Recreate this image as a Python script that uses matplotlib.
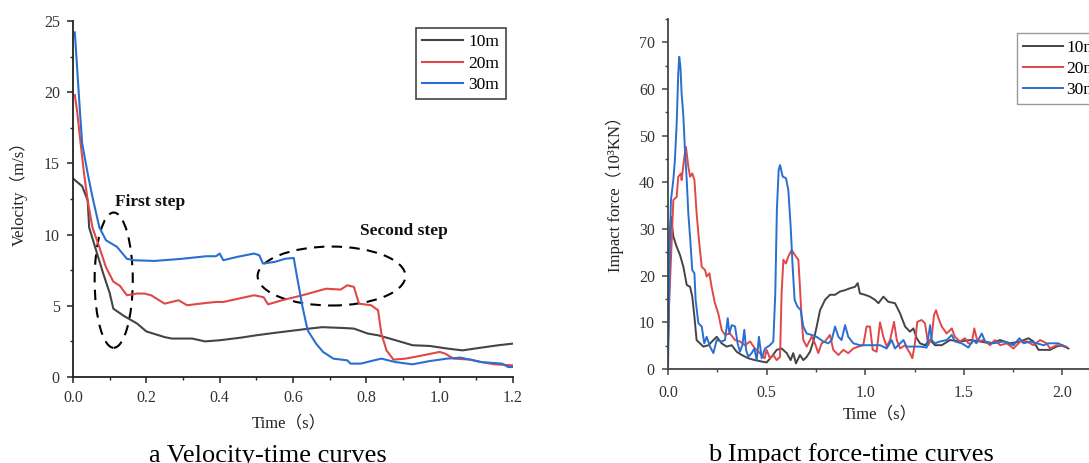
import matplotlib
matplotlib.use("Agg")
import matplotlib.pyplot as plt
from matplotlib.patches import Ellipse
from matplotlib.ticker import MultipleLocator

plt.rcParams["font.family"] = ["Liberation Serif", "Noto Sans CJK SC"]

# ---- data: velocity-time (panel a) ----
t10 = [0, 0.025, 0.04, 0.044, 0.063, 0.082, 0.1, 0.11, 0.138, 0.175, 0.2, 0.25, 0.27, 0.325, 0.36,
       0.4, 0.457, 0.5, 0.55, 0.607, 0.645, 0.68, 0.738, 0.766, 0.804, 0.832, 0.88, 0.926, 0.973,
       1.02, 1.062, 1.113, 1.16, 1.198]
v10 = [13.94, 13.4, 12.4, 10.5, 8.9, 7.3, 5.9, 4.8, 4.3, 3.75, 3.2, 2.8, 2.7, 2.7, 2.5,
       2.58, 2.76, 2.93, 3.1, 3.28, 3.4, 3.5, 3.44, 3.4, 3.05, 2.93, 2.58, 2.23, 2.18,
       2.0, 1.87, 2.06, 2.23, 2.34]

t20 = [0.005, 0.011, 0.02, 0.03, 0.04, 0.053, 0.072, 0.09, 0.11, 0.128, 0.147, 0.175, 0.194, 0.213,
       0.25, 0.288, 0.311, 0.363, 0.39, 0.41, 0.494, 0.52, 0.532, 0.57, 0.626, 0.69, 0.73, 0.748,
       0.766, 0.78, 0.813, 0.832, 0.841, 0.855, 0.874, 0.907, 0.954, 1.0, 1.015, 1.038, 1.085,
       1.113, 1.15, 1.198]
v20 = [19.8, 18.7, 16.6, 14.3, 12.4, 10.5, 9.1, 7.7, 6.7, 6.4, 5.74, 5.86, 5.86, 5.74,
       5.15, 5.39, 5.04, 5.2, 5.27, 5.27, 5.74, 5.6, 5.1, 5.39, 5.74, 6.2, 6.14, 6.44,
       6.33, 5.15, 5.04, 4.69, 3.05, 1.87, 1.22, 1.29, 1.52, 1.76, 1.64, 1.29, 1.22,
       1.05, 0.89, 0.82]

t30 = [0.005, 0.011, 0.018, 0.025, 0.04, 0.053, 0.072, 0.09, 0.12, 0.147, 0.166, 0.222, 0.297,
       0.363, 0.39, 0.4, 0.41, 0.447, 0.494, 0.508, 0.518, 0.55, 0.578, 0.602, 0.611, 0.626,
       0.64, 0.663, 0.682, 0.71, 0.748, 0.757, 0.785, 0.813, 0.841, 0.879, 0.926, 0.973, 1.02,
       1.057, 1.113, 1.17, 1.187, 1.2]
v30 = [24.2, 21.8, 19.0, 16.4, 14.3, 12.65, 10.5, 9.6, 9.14, 8.3, 8.2, 8.15, 8.3,
       8.48, 8.48, 8.67, 8.2, 8.43, 8.67, 8.55, 7.97, 8.08, 8.3, 8.36, 7.03, 4.92,
       3.28, 2.34, 1.76, 1.29, 1.17, 0.94, 0.94, 1.12, 1.29, 1.05, 0.89, 1.12, 1.29,
       1.36, 1.05, 0.94, 0.7, 0.7]

# ---- data: impact force-time (panel b) ----
tf10 = [0, 0.008, 0.015, 0.027, 0.044, 0.061, 0.078, 0.095, 0.112, 0.123, 0.134, 0.145, 0.162,
        0.179, 0.205, 0.23, 0.247, 0.272, 0.297, 0.323, 0.348, 0.374, 0.407, 0.441, 0.475, 0.5,
        0.525, 0.551, 0.576, 0.602, 0.622, 0.635, 0.649, 0.669, 0.686, 0.703, 0.72, 0.737, 0.754,
        0.771, 0.796, 0.821, 0.847, 0.872, 0.898, 0.923, 0.948, 0.962, 0.973, 0.999, 1.024, 1.05,
        1.067, 1.092, 1.117, 1.151, 1.177, 1.202, 1.227, 1.244, 1.261, 1.278, 1.303, 1.329, 1.354,
        1.388, 1.43, 1.48, 1.531, 1.582, 1.633, 1.684, 1.735, 1.786, 1.828, 1.853, 1.879, 1.904,
        1.937, 1.97, 2.0, 2.03]
f10 = [5, 28, 32.6, 28.4, 26.2, 24.4, 21.9, 18, 17.6, 15.5, 11.2, 6.2, 5.5,
       4.8, 5.1, 6.2, 6.9, 5.5, 4.8, 5.1, 3.7, 3.0, 2.3, 1.9, 1.6, 1.4,
       2.6, 4.1, 4.4, 3.4, 1.9, 3.4, 1.2, 3.0, 1.9, 2.6, 3.7, 5.9, 9.1,
       12.6, 14.8, 15.9, 15.9, 16.6, 16.9, 17.3, 17.6, 18.4, 16.2, 15.9, 15.5, 14.8,
       14.1, 15.5, 14.4, 14.1, 11.9, 9.1, 8.0, 8.7, 6.6, 5.5, 5.1, 6.2, 5.1,
       5.1, 6.2, 5.9, 6.2, 5.9, 5.5, 6.2, 5.5, 5.9, 6.6, 5.9, 4.1, 4.1,
       4.1, 4.8, 5.1, 4.4]

tf20 = [0, 0.005, 0.019, 0.027, 0.044, 0.052, 0.066, 0.069, 0.083, 0.091, 0.103, 0.112, 0.123,
        0.134, 0.145, 0.157, 0.171, 0.188, 0.196, 0.21, 0.221, 0.238, 0.255, 0.272, 0.289, 0.314,
        0.34, 0.365, 0.39, 0.416, 0.441, 0.466, 0.49, 0.5, 0.517, 0.534, 0.551, 0.568, 0.576,
        0.585, 0.598, 0.61, 0.627, 0.644, 0.661, 0.669, 0.678, 0.686, 0.703, 0.728, 0.745, 0.762,
        0.779, 0.796, 0.821, 0.838, 0.864, 0.889, 0.914, 0.94, 0.965, 0.99, 1.007, 1.024, 1.038,
        1.058, 1.075, 1.092, 1.109, 1.126, 1.146, 1.16, 1.177, 1.202, 1.227, 1.239, 1.252, 1.264,
        1.286, 1.303, 1.32, 1.337, 1.349, 1.359, 1.371, 1.388, 1.413, 1.439, 1.455, 1.48, 1.506,
        1.523, 1.54, 1.553, 1.569, 1.6, 1.633, 1.658, 1.684, 1.718, 1.752, 1.786, 1.82, 1.853,
        1.887, 1.92, 1.937, 1.97, 2.02]
f20 = [6, 13.4, 27.6, 36.2, 36.9, 41.2, 41.9, 40.5, 45.5, 47.6, 43.4, 41.2, 41.9,
       40.5, 33.4, 27.6, 21.9, 21.2, 19.8, 20.5, 17.6, 14.1, 11.9, 8.4, 7.3, 7.6,
       6.2, 5.9, 5.1, 5.9, 4.4, 3.4, 2.3, 4.1, 2.3, 3.0, 1.9, 2.6, 16.2,
       23.4, 22.6, 24.1, 25.5, 24.4, 23.4, 17.6, 10.5, 6.2, 4.8, 6.9, 5.5, 3.4,
       5.5, 5.9, 7.3, 4.1, 3.0, 4.1, 3.4, 4.4, 4.8, 5.1, 9.1, 9.1, 4.1,
       3.7, 10.0, 6.9, 4.8, 6.2, 10.1, 6.2, 4.4, 5.1, 3.4, 2.3, 5.5, 10.1,
       10.5, 9.8, 5.1, 6.9, 11.6, 12.6, 10.9, 9.1, 7.6, 8.7, 6.9, 5.9, 6.6,
       5.5, 5.5, 8.7, 5.9, 6.2, 5.1, 6.2, 5.1, 5.5, 4.4, 5.9, 5.9, 5.1,
       6.2, 5.5, 4.4, 5.1, 4.8]

tf30 = [0, 0.005, 0.01, 0.015, 0.027, 0.035, 0.044, 0.052, 0.057, 0.063, 0.069, 0.078, 0.086,
        0.095, 0.103, 0.113, 0.123, 0.134, 0.14, 0.154, 0.171, 0.184, 0.196, 0.213, 0.23, 0.247,
        0.272, 0.289, 0.303, 0.311, 0.323, 0.34, 0.353, 0.365, 0.377, 0.387, 0.396, 0.407, 0.424,
        0.438, 0.45, 0.461, 0.475, 0.492, 0.517, 0.534, 0.544, 0.552, 0.561, 0.568, 0.582, 0.598,
        0.61, 0.622, 0.632, 0.642, 0.656, 0.673, 0.686, 0.703, 0.728, 0.753, 0.787, 0.813, 0.83,
        0.847, 0.864, 0.88, 0.898, 0.914, 0.94, 0.973, 1.024, 1.075, 1.109, 1.134, 1.151, 1.177,
        1.194, 1.21, 1.244, 1.278, 1.312, 1.329, 1.337, 1.354, 1.379, 1.413, 1.439, 1.455, 1.489,
        1.523, 1.547, 1.564, 1.591, 1.608, 1.65, 1.701, 1.752, 1.782, 1.803, 1.837, 1.87, 1.904,
        1.929, 1.98, 2.01]
f30 = [0, 13.4, 27.6, 36.2, 40.5, 44.8, 52.6, 63.4, 66.9, 64.8, 59.1, 54.1, 46.9,
       40.5, 33.4, 27.6, 21.2, 20.5, 14.8, 9.8, 9.1, 5.5, 6.9, 4.8, 3.4, 6.2,
       5.9, 6.2, 10.9, 7.6, 9.4, 9.1, 5.5, 3.7, 5.1, 8.4, 4.1, 2.6, 3.4,
       4.4, 1.9, 6.9, 2.3, 4.4, 5.1, 5.9, 16.2, 34, 42.6, 43.7, 41.2, 40.9,
       38.4, 30.5, 21.9, 14.8, 13.4, 12.6, 9.1, 7.6, 7.3, 6.9, 5.9, 5.5, 6.2,
       9.1, 6.9, 6.2, 9.4, 6.9, 5.5, 5.1, 5.1, 5.1, 4.4, 6.2, 4.4, 5.5,
       6.2, 4.8, 4.8, 4.8, 4.6, 9.4, 6.2, 5.5, 5.9, 6.2, 7.3, 5.9, 5.5,
       4.6, 6.2, 5.5, 7.6, 5.9, 5.5, 5.9, 5.1, 6.6, 5.5, 5.9, 5.5, 5.1,
       5.5, 5.5, 4.8]

labels = ["10m", "20m", "30m"]
colors = ["#444444", "#e04848", "#2a6fd0"]

W, H = 1089, 463
fig = plt.figure(figsize=(W / 100, H / 100), dpi=100)


def style_axes(ax, xmaj, xmin, ymaj, ymin, spine_col):
    for s in ["top", "right"]:
        ax.spines[s].set_visible(False)
    for s in ["left", "bottom"]:
        ax.spines[s].set_color(spine_col)
        ax.spines[s].set_linewidth(1.3)
    ax.xaxis.set_major_locator(MultipleLocator(xmaj))
    ax.xaxis.set_minor_locator(MultipleLocator(xmin))
    ax.yaxis.set_major_locator(MultipleLocator(ymaj))
    ax.yaxis.set_minor_locator(MultipleLocator(ymin))
    ax.tick_params(which="major", length=4.5, width=1.1, color=spine_col,
                   labelsize=11.5, labelcolor="#333333", pad=5)
    ax.tick_params(which="minor", length=2.5, width=1.0, color=spine_col)


# ---- panel a ----
ax1 = fig.add_axes([73 / W, (H - 377) / H, 440 / W, 356 / H])
for tt, vv, lab, c in zip([t10, t20, t30], [v10, v20, v30], labels, colors):
    ax1.plot(tt, vv, color=c, lw=1.5, label=lab)
ax1.set_xlim(0, 1.2)
ax1.set_ylim(0, 25)
style_axes(ax1, 0.2, 0.1, 5, 2.5, "#222222")
ax1.xaxis.set_major_formatter(matplotlib.ticker.FormatStrFormatter("%.1f"))

ax1.add_patch(Ellipse((0.111, 6.8), 0.104, 9.5, fill=False, ls=(0, (5, 3.5)),
                      lw=1.5, color="black"))
ax1.add_patch(Ellipse((0.705, 7.09), 0.403, 4.14, fill=False, ls=(0, (5, 3.5)),
                      lw=1.5, color="black"))
ax1.text(0.209, 12.3, "First step", ha="center", va="center", fontsize=12.5,
         fontweight="bold", color="#111111")
ax1.text(0.903, 10.25, "Second step", ha="center", va="center", fontsize=12.5,
         fontweight="bold", color="#111111")

leg1 = ax1.legend(loc="upper right", bbox_to_anchor=(0.983, 0.98), borderaxespad=0,
                  fontsize=12.5, fancybox=False, framealpha=1, edgecolor="#444444",
                  handlelength=2.4, handletextpad=0.3, labelspacing=0.3, borderpad=0.35)
leg1.get_frame().set_linewidth(1.2)

fig.text(19 / W, 1 - 190 / H, "Velocity（m/s）", rotation=90, ha="center", va="center",
         fontsize=12, color="#222222")
fig.text(289 / W, 1 - 423 / H, "Time（s）", ha="center", va="center",
         fontsize=12, color="#222222")
fig.text(268 / W, 1 / H, "a Velocity-time curves", ha="center", va="baseline",
         fontsize=19, color="black")

# ---- panel b (runs past the right edge, as in the source) ----
ax2 = fig.add_axes([668 / W, (H - 369) / H, 453.6 / W, 350 / H])
for tt, ff, lab, c in zip([tf10, tf20, tf30], [f10, f20, f30], labels, colors):
    ax2.plot(tt, ff, color=c, lw=1.4, label=lab)
ax2.set_xlim(0, 2.3)
ax2.set_ylim(0, 75)
style_axes(ax2, 0.5, 0.25, 10, 5, "#444444")
ax2.xaxis.set_major_formatter(matplotlib.ticker.FormatStrFormatter("%.1f"))
ax2.tick_params(axis="x", which="major", pad=7)

leg2 = ax2.legend(loc="upper left", bbox_to_anchor=(0.7694, 0.959), borderaxespad=0,
                  fontsize=12.5, fancybox=False, framealpha=1, edgecolor="#999999",
                  handlelength=2.3, handletextpad=0.2, labelspacing=0.3, borderpad=0.35)
leg2.get_frame().set_linewidth(1.0)

fig.text(615 / W, 1 - 190 / H, "Impact force（10³KN）", rotation=90, ha="center",
         va="center", fontsize=12, color="#222222")
fig.text(880 / W, 1 - 414 / H, "Time（s）", ha="center", va="center",
         fontsize=12, color="#222222")
fig.text(851 / W, 2 / H, "b Impact force-time curves", ha="center", va="baseline",
         fontsize=19, color="black")

fig.savefig("out.png", dpi=100)
